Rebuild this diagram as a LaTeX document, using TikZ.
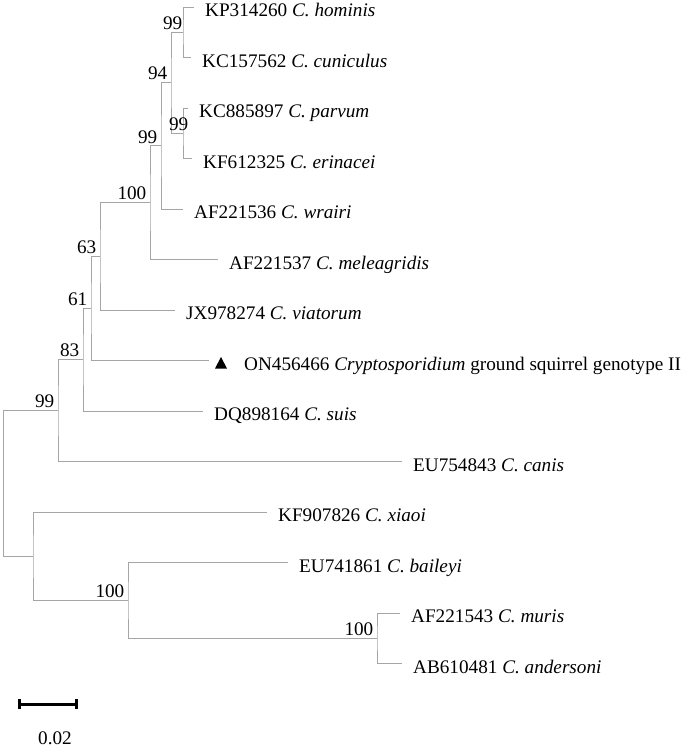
\documentclass[tikz,border=0pt]{standalone}
\usepackage{fontspec}
\setmainfont{Liberation Serif}
\usepackage{xcolor}
\definecolor{branchgrey}{RGB}{165, 165, 165}
\usepackage{tikz}
\usetikzlibrary{arrows.meta, calc}

\tikzset{
  branch/.style={draw=branchgrey, line width=1pt},
  leaf/.style={anchor=base west, inner sep=0pt, xshift=11pt, yshift=-9.5pt},
  boot/.style={anchor=south east, inner xsep=3.5pt, inner ysep=2.5pt}
}

\begin{document}
\begin{tikzpicture}[x=1pt, y=-1pt, font=\fontsize{19.2}{23}\selectfont]
    \useasboundingbox (0,0) rectangle (685,747);

    % tips
    \coordinate (t1) at (194, 7);
    \coordinate (t2) at (191, 57.5);
    \coordinate (t3) at (188, 108);
    \coordinate (t4) at (192, 158.5);
    \coordinate (t5) at (183, 209);
    \coordinate (t6) at (218, 259.5);
    \coordinate (t7) at (175, 310);
    \coordinate (t8) at (209, 360.5);
    \coordinate (t9) at (203, 411);
    \coordinate (t10) at (402, 461.5);
    \coordinate (t11) at (267, 512);
    \coordinate (t12) at (288, 562.5);
    \coordinate (t13) at (400, 613);
    \coordinate (t14) at (402, 663.5);

    % internal nodes
    \coordinate (nhc) at (183, 32.25);
    \coordinate (npe) at (183, 133.25);
    \coordinate (n94) at (171, 82.75);
    \coordinate (n99a) at (161, 145.9);
    \coordinate (n100a) at (150, 202.7);
    \coordinate (n63) at (100, 256.3);
    \coordinate (n61) at (91, 308.4);
    \coordinate (n83) at (83, 359.7);
    \coordinate (n99b) at (58, 410.6);
    \coordinate (root) at (3.3, 483.4);
    \coordinate (nxr) at (33, 556.2);
    \coordinate (n100b) at (128, 600.4);
    \coordinate (n100c) at (377, 638.25);

    \draw[branch] (t1) -| (nhc) |- (t2);
    \draw[branch] (t3) -| (npe) |- (t4);
    \draw[branch] (nhc) -| (n94) |- (npe);
    \draw[branch] (n94) -| (n99a) |- (t5);
    \draw[branch] (n99a) -| (n100a) |- (t6);
    \draw[branch] (n100a) -| (n63) |- (t7);
    \draw[branch] (n63) -| (n61) |- (t8);
    \draw[branch] (n61) -| (n83) |- (t9);
    \draw[branch] (n83) -| (n99b) |- (t10);
    \draw[branch] (n99b) -| (root) |- (nxr);
    \draw[branch] (t11) -| (nxr) |- (n100b);
    \draw[branch] (t12) -| (n100b) |- (n100c);
    \draw[branch] (t13) -| (n100c) |- (t14);

    % bootstrap values
    \node[boot, xshift=3pt] (bhc) at (nhc) {99};
    \node[boot, xshift=9pt] (bpe) at (npe) {99};
    \node[boot] (b94) at (n94) {94};
    \node[boot] (b99a) at (n99a) {99};
    \node[boot] (b100a) at (n100a) {100};
    \node[boot] (b63) at (n63) {63};
    \node[boot] (b61) at (n61) {61};
    \node[boot] (b83) at (n83) {83};
    \node[boot] (b99b) at (n99b) {99};
    \node[boot] (b100b) at (n100b) {100};
    \node[boot] (b100c) at (n100c) {100};

    % taxa
    \node[leaf] (l1) at (t1) {KP314260 \textit{C. hominis}};
    \node[leaf] (l2) at (t2) {KC157562 \textit{C. cuniculus}};
    \node[leaf] (l3) at (t3) {KC885897 \textit{C. parvum}};
    \node[leaf] (l4) at (t4) {KF612325 \textit{C. erinacei}};
    \node[leaf] (l5) at (t5) {AF221536 \textit{C. wrairi}};
    \node[leaf] (l6) at (t6) {AF221537 \textit{C. meleagridis}};
    \node[leaf] (l7) at (t7) {JX978274 \textit{C. viatorum}};
    \fill ($(t8)+(6,8)$) -- ++(12,0) -- ++(-6,-11.5) -- cycle;
    \node[leaf, xshift=24pt] (l8) at (t8) {ON456466 \textit{Cryptosporidium} ground squirrel genotype II};
    \node[leaf] (l9) at (t9) {DQ898164 \textit{C. suis}};
    \node[leaf] (l10) at (t10) {EU754843 \textit{C. canis}};
    \node[leaf] (l11) at (t11) {KF907826 \textit{C. xiaoi}};
    \node[leaf] (l12) at (t12) {EU741861 \textit{C. baileyi}};
    \node[leaf] (l13) at (t13) {AF221543 \textit{C. muris}};
    \node[leaf] (l14) at (t14) {AB610481 \textit{C. andersoni}};

    % scale bar
    \coordinate (s0) at (18, 704);
    \coordinate (s1) at (78, 704);
    \draw[line width=3pt, {Bar[width=10pt]}-{Bar[width=10pt]}] (s0) -- (s1);
    \node[anchor=base, inner sep=0pt] (scale) at (55, 744) {0.02};
\end{tikzpicture}
\end{document}
